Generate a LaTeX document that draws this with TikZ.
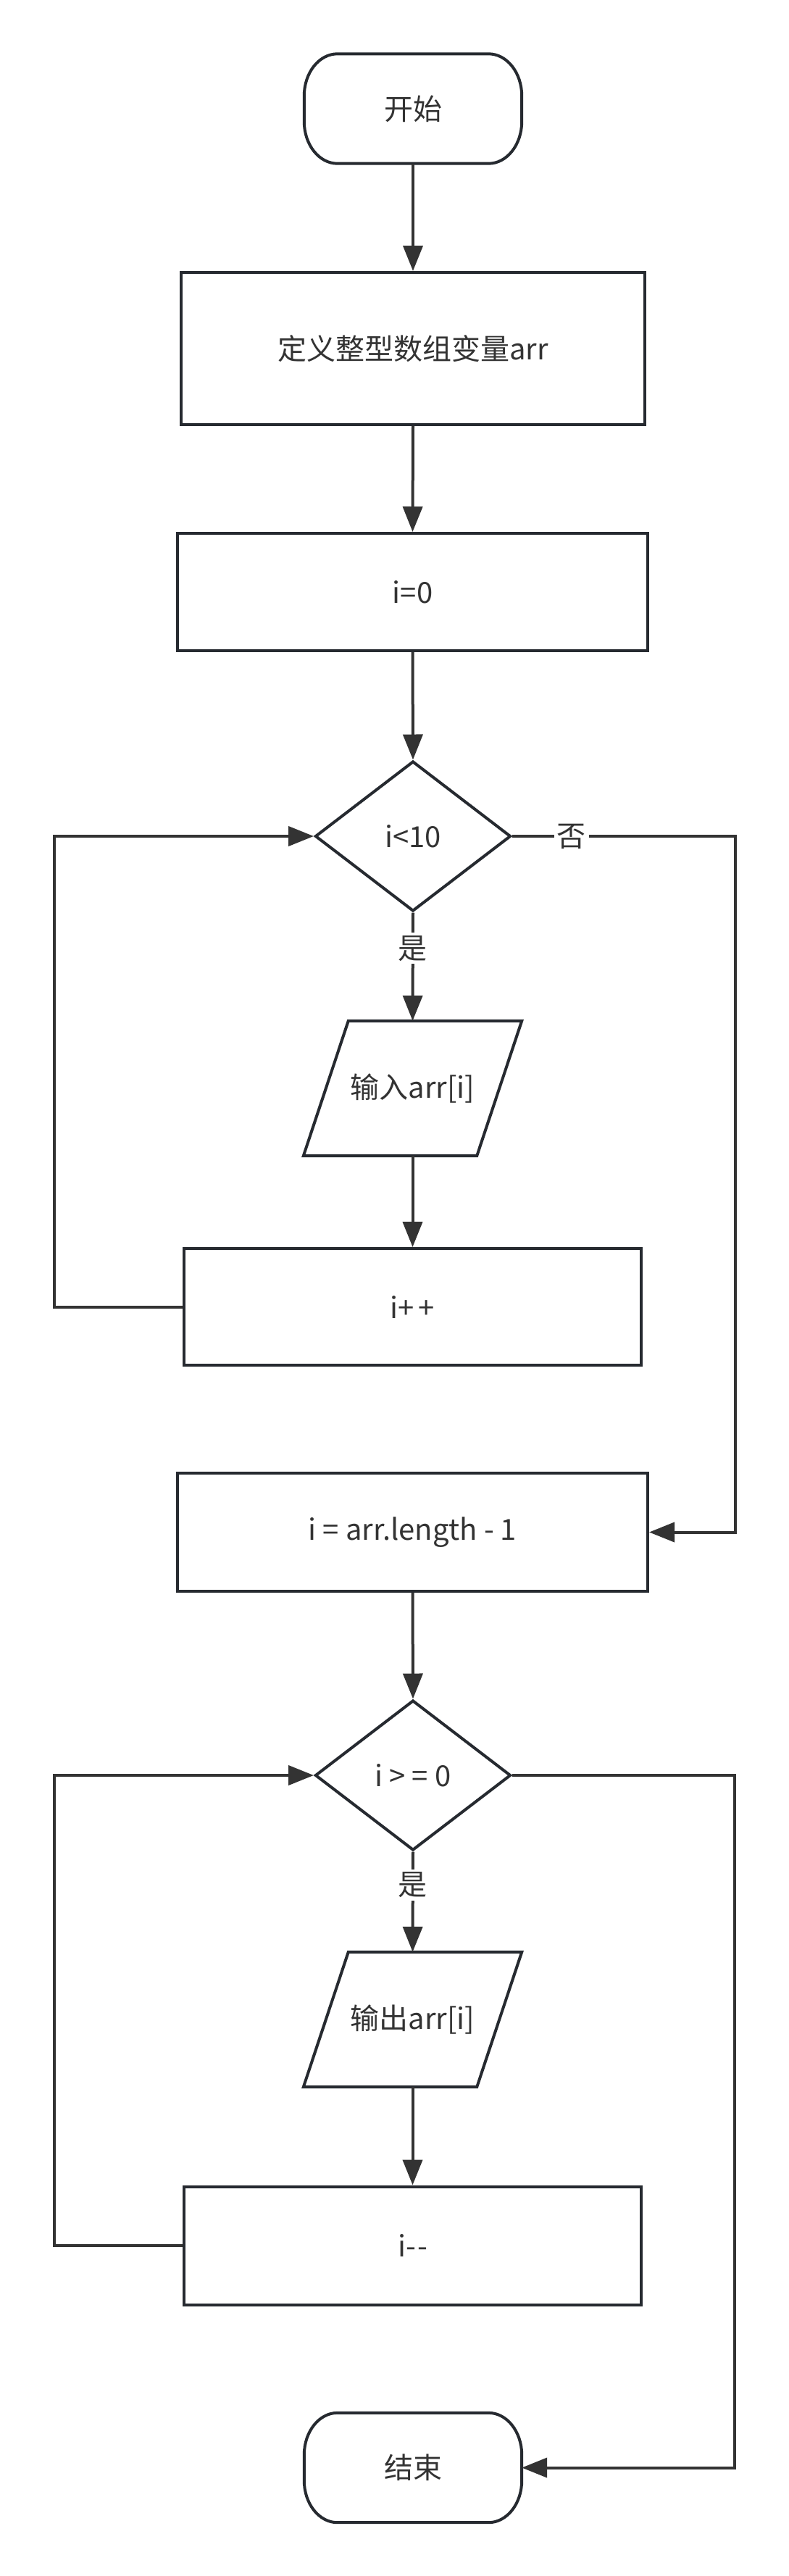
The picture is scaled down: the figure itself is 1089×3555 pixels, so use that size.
\documentclass[tikz,border=0pt]{standalone}
\usepackage{fontspec}
\setmainfont{Noto Sans CJK SC}[Ligatures=TeXOff]
\usetikzlibrary{arrows.meta,shapes.geometric,calc}
\definecolor{shp}{HTML}{262A30}
\definecolor{ln}{HTML}{333333}
\definecolor{txt}{HTML}{333333}
\newcommand\termshape[1]{%
  \draw[shpline]
    ($(#1.north west)+(46,0)$) -- ($(#1.north east)+(-46,0)$)
    .. controls ($(#1.north east)+(-20.6,0)$) and ($(#1.north east)+(0,26)$) .. ($(#1.north east)+(0,58)$)
    -- ($(#1.south east)+(0,-58)$)
    .. controls ($(#1.south east)+(0,-26)$) and ($(#1.south east)+(-20.6,0)$) .. ($(#1.south east)+(-46,0)$)
    -- ($(#1.south west)+(46,0)$)
    .. controls ($(#1.south west)+(20.6,0)$) and ($(#1.south west)+(0,-26)$) .. ($(#1.south west)+(0,-58)$)
    -- ($(#1.north west)+(0,58)$)
    .. controls ($(#1.north west)+(0,26)$) and ($(#1.north west)+(20.6,0)$) .. ($(#1.north west)+(46,0)$)
    -- cycle;}
\newcommand\paralshape[1]{%
  \draw[shpline]
    ($(#1.north west)+(62,0)$) -- (#1.north east) -- ($(#1.south east)+(-62,0)$) -- (#1.south west) -- cycle;}
\begin{document}
\begin{tikzpicture}[x=1pt,y=-1pt,
  every node/.style={font=\fontsize{40}{48}\selectfont, text=txt},
  shpline/.style={draw=shp, line width=4pt, line join=miter},
  termbox/.style={minimum width=300pt, minimum height=151pt, inner sep=0pt},
  procbox/.style={rectangle, draw=shp, line width=4pt, inner sep=0pt},
  decbox/.style={diamond, draw=shp, line width=4pt, inner sep=0pt, minimum width=270pt, minimum height=207pt},
  iobox/.style={rectangle, minimum width=301pt, minimum height=186pt, inner sep=0pt},
  conn/.style={draw=ln, line width=4pt, -{Triangle[length=35pt,width=27pt]}},
  lbl/.style={fill=white, inner sep=4pt}
]
\fill[white] (0,0) rectangle (1089,3555);
\useasboundingbox (0,0) rectangle (1089,3555);

\node[termbox] (start) at (570,150) {开始};
\termshape{start}
\node[procbox, minimum width=640pt, minimum height=210pt] (def) at (570,481) {定义整型数组变量arr};
\node[procbox, minimum width=649pt, minimum height=162pt] (init) at (569.5,817) {i=0};
\node[decbox] (cond1) at (570,1154) {i<10};
\node[iobox] (in1) at (569.5,1502) {输入arr[i]};
\paralshape{in1}
\node[procbox, minimum width=631pt, minimum height=161pt] (inc) at (569.5,1803.5) {i+\kern0.15em+};
\node[procbox, minimum width=649pt, minimum height=163pt] (setlen) at (569.5,2114.5) {i = arr.length - 1};
\node[decbox] (cond2) at (570,2450) {i > = 0};
\node[iobox] (out1) at (569.5,2787) {输出arr[i]};
\paralshape{out1}
\node[procbox, minimum width=631pt, minimum height=163pt] (dec) at (569.5,3099) {i-\kern0.05em-};
\node[termbox] (end) at (570,3405.5) {结束};
\termshape{end}

\coordinate (L1) at (75,1803.5);
\coordinate (R1) at (1015,1154);
\coordinate (L2) at (75,3099);
\coordinate (R2) at (1014,2450);

\draw[conn] (start.south) -- (def.north);
\draw[conn] (def.south) -- (init.north);
\draw[conn] (init.south) -- (cond1.north);
\draw[conn] (cond1.south) -- node[lbl, pos=0.33] {是} (in1.north);
\draw[conn] (in1.south) -- (inc.north);
\draw[conn] (inc.west) -- (L1) |- (cond1.west);
\draw[conn] (cond1.east) -- node[lbl, pos=0.265] {否} (R1) |- (setlen.east);
\draw[conn] (setlen.south) -- (cond2.north);
\draw[conn] (cond2.south) -- node[lbl, pos=0.33] {是} (out1.north);
\draw[conn] (out1.south) -- (dec.north);
\draw[conn] (dec.west) -- (L2) |- (cond2.west);
\draw[conn] (cond2.east) -- (R2) |- (end.east);
\end{tikzpicture}
\end{document}
